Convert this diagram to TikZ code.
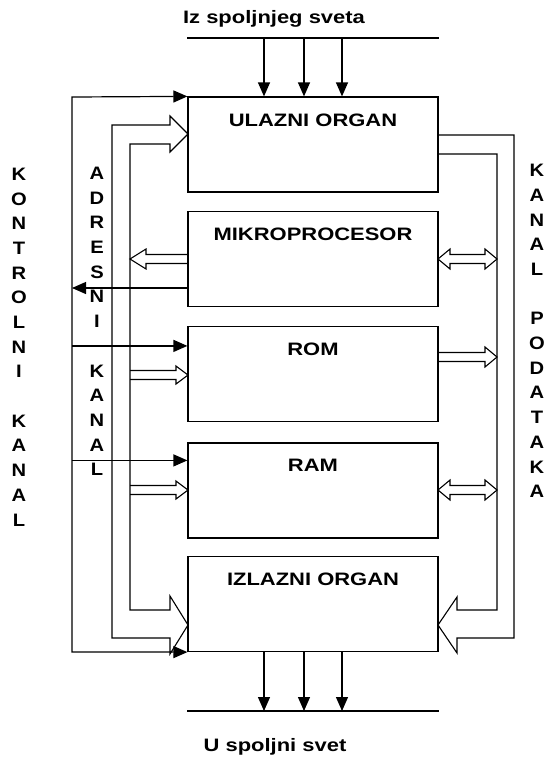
\documentclass[tikz,border=0pt]{standalone}
\usepackage{fontspec}
\setmainfont{Liberation Sans}
\usepackage{tikz}
\usetikzlibrary{arrows.meta}
\usetikzlibrary{positioning}

\begin{document}
\begin{tikzpicture}[x=1pt,y=-1pt,line width=1.2pt,
  >={Triangle[length=14pt,width=12pt]},
  blok/.style={draw,minimum width=250pt,minimum height=95pt,inner sep=0pt},
  naslov/.style={font=\bfseries\fontsize{18}{22}\selectfont,xscale=1.22,inner sep=0pt},
  kanal/.style={font=\bfseries\fontsize{18}{24.7}\selectfont,xscale=1.12,align=center,inner sep=0pt},
  sirok/.style={line width=1.1pt,draw=black,line join=miter}]

  \useasboundingbox (0,0) rectangle (546,761);

  % blokovi
  \node[blok] (ulaz)  at (313,144.5) {};
  \node[blok] (mp)    at (313,259)   {};
  \node[blok] (rom)   at (313,374)   {};
  \node[blok] (ram)   at (313,490.5) {};
  \node[blok] (izlaz) at (313,604)   {};
  \node[naslov, below=16.5pt of ulaz.north]  (tulaz)  {ULAZNI ORGAN};
  \node[naslov, below=16.5pt of mp.north]    (tmp)    {MIKROPROCESOR};
  \node[naslov, below=16.5pt of rom.north]   (trom)   {ROM};
  \node[naslov, below=16.5pt of ram.north]   (tram)   {RAM};
  \node[naslov, below=16.5pt of izlaz.north] (tizlaz) {IZLAZNI ORGAN};

  % spoljni svet
  \foreach \x [count=\i] in {264,304,342} {
    \coordinate (ul\i) at (\x,38);
    \coordinate (iz\i) at (\x,711);
  }
  \node[naslov,anchor=base] (spolja) at (274,23)  {Iz spoljnjeg sveta};
  \node[naslov,anchor=base] (spolj)  at (275,751) {U spoljni svet};
  \draw (ulaz.west |- ul1) -- (ulaz.east |- ul1);
  \draw (izlaz.west |- iz1) -- (izlaz.east |- iz1);
  \foreach \i in {1,2,3} {
    \draw[->] (ul\i) -- (ul\i |- ulaz.north);
    \draw[->] (iz\i |- izlaz.south) -- (iz\i);
  }

  % kontrolni kanal
  \coordinate (kg) at (72,97);
  \coordinate (kd) at (72,652);
  \draw[<->] (ulaz.north west) -- (kg) -- (kd) -- (izlaz.south west);
  \draw[->] ([yshift=-29pt]mp.west) -- ([yshift=-29pt]mp.west -| kg);
  \draw[->] ([yshift=-20pt]rom.north west -| kg) -- ([yshift=-20pt]rom.north west);
  \draw[->] ([yshift=-18pt]ram.north west -| kg) -- ([yshift=-18pt]ram.north west);
  \node[kanal] (kontrolni) at (19,347)
    {K\\O\\N\\T\\R\\O\\L\\N\\I\\[24.7pt]K\\A\\N\\A\\L};

  % adresni kanal
  \draw[sirok] (188,134) -- (170,116) -- (170,125) -- (112,125) -- (112,638)
    -- (170,638) -- (170,654) -- (188,625) -- (170,596) -- (170,610)
    -- (130,610) -- (130,144) -- (170,144) -- (170,152) -- cycle;
  \draw[sirok] (188,254.5) -- (146,254.5) -- (146,249) -- (130,259)
    -- (146,269) -- (146,263.5) -- (188,263.5);
  \draw[sirok] (130,370.5) -- (176,370.5) -- (176,366) -- (188,375)
    -- (176,384) -- (176,379.5) -- (130,379.5);
  \draw[sirok] (130,485.5) -- (176,485.5) -- (176,481) -- (188,490)
    -- (176,499) -- (176,494.5) -- (130,494.5);
  \node[kanal] (adresni) at (97,321.5)
    {A\\D\\R\\E\\S\\N\\I\\[24.7pt]K\\A\\N\\A\\L};

  % kanal podataka
  \draw[sirok] (438,135) -- (514,135) -- (514,638) -- (457,638) -- (457,653)
    -- (438,625) -- (457,597) -- (457,610) -- (497,610) -- (497,154) -- (438,154);
  \draw[sirok] (438,259) -- (450,249) -- (450,254.5) -- (485,254.5) -- (485,249)
    -- (497,259) -- (485,269) -- (485,263.5) -- (450,263.5) -- (450,269) -- cycle;
  \draw[sirok] (438,352.5) -- (485,352.5) -- (485,347) -- (497,357)
    -- (485,367) -- (485,361.5) -- (438,361.5);
  \draw[sirok] (438,490) -- (450,480) -- (450,485.5) -- (485,485.5) -- (485,480)
    -- (497,490) -- (485,500) -- (485,494.5) -- (450,494.5) -- (450,500) -- cycle;
  \node[kanal] (podataka) at (537,331)
    {K\\A\\N\\A\\L\\[24.7pt]P\\O\\D\\A\\T\\A\\K\\A};
\end{tikzpicture}
\end{document}
